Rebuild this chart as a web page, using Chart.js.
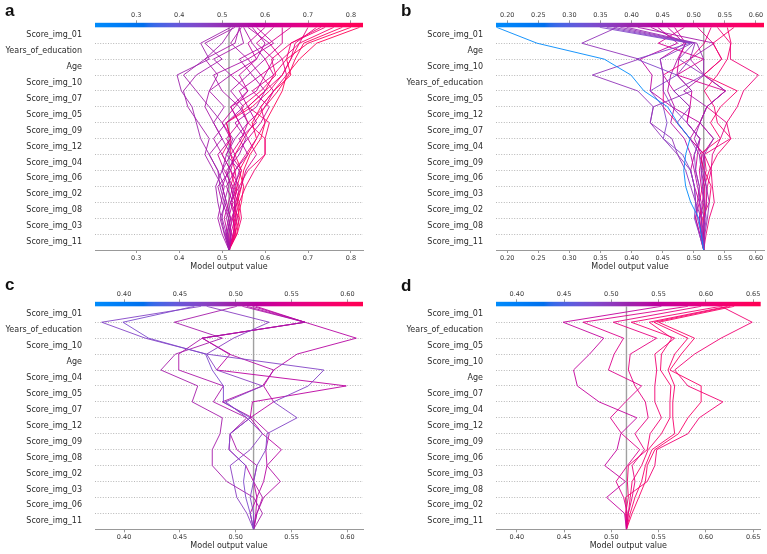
<!DOCTYPE html>
<html>
<head>
<meta charset="utf-8">
<script src="https://cdn.jsdelivr.net/npm/chart.js@4/dist/chart.umd.min.js"></script>
<style>
  html, body { margin: 0; padding: 0; background: #fff; }
  #page { position: relative; width: 767px; height: 554px; overflow: hidden; }
  .panel { position: absolute; }
  .letter { position: absolute; font: bold 17px "Liberation Sans", Arial, sans-serif; line-height: 1; color: #111; }
</style>
</head>
<body>
<div id="page">
  <div class="panel" style="left:0;top:0;width:384px;height:277px"><canvas id="chart-a"></canvas></div>
  <div class="panel" style="left:384px;top:0;width:383px;height:277px"><canvas id="chart-b"></canvas></div>
  <div class="panel" style="left:0;top:277px;width:384px;height:277px"><canvas id="chart-c"></canvas></div>
  <div class="panel" style="left:384px;top:277px;width:383px;height:277px"><canvas id="chart-d"></canvas></div>
  <div class="letter" style="left:5px;top:2px">a</div>
  <div class="letter" style="left:401px;top:2px">b</div>
  <div class="letter" style="left:5px;top:276px">c</div>
  <div class="letter" style="left:401px;top:277px">d</div>
</div>
<script>
// expected model output, where every decision path starts
const baseValue = 0.516;

// features listed top -> bottom as shown in each panel
const featuresA = ['Score_img_01', 'Years_of_education', 'Age', 'Score_img_10', 'Score_img_07', 'Score_img_05',
  'Score_img_09', 'Score_img_12', 'Score_img_04', 'Score_img_06', 'Score_img_02', 'Score_img_08', 'Score_img_03', 'Score_img_11'];
const featuresB = ['Score_img_01', 'Age', 'Score_img_10', 'Years_of_education', 'Score_img_05', 'Score_img_12',
  'Score_img_07', 'Score_img_04', 'Score_img_09', 'Score_img_06', 'Score_img_03', 'Score_img_02', 'Score_img_08', 'Score_img_11'];
const featuresC = ['Score_img_01', 'Years_of_education', 'Score_img_10', 'Age', 'Score_img_04', 'Score_img_05',
  'Score_img_07', 'Score_img_12', 'Score_img_09', 'Score_img_08', 'Score_img_02', 'Score_img_03', 'Score_img_06', 'Score_img_11'];
const featuresD = ['Score_img_01', 'Years_of_education', 'Score_img_05', 'Score_img_10', 'Age', 'Score_img_07',
  'Score_img_04', 'Score_img_12', 'Score_img_09', 'Score_img_06', 'Score_img_03', 'Score_img_08', 'Score_img_02', 'Score_img_11'];

// x limits (also the colour scale limits) and tick labels
const xRangeA = [0.204, 0.828];
const xRangeB = [0.182, 0.613];
const xRangeC = [0.374, 0.614];
const xRangeD = [0.378, 0.658];
const ticksA = [0.3, 0.4, 0.5, 0.6, 0.7, 0.8];
const ticksB = [0.20, 0.25, 0.30, 0.35, 0.40, 0.45, 0.50, 0.55, 0.60];
const ticksC = [0.40, 0.45, 0.50, 0.55, 0.60];
const ticksD = [0.40, 0.45, 0.50, 0.55, 0.60, 0.65];

// cumulative model output after each feature, bottom feature first, final prediction last
const linesA = [
  [0.510, 0.500, 0.505, 0.495, 0.490, 0.470, 0.450, 0.440, 0.430, 0.405, 0.395, 0.470, 0.450, 0.520],
  [0.505, 0.495, 0.510, 0.500, 0.480, 0.460, 0.470, 0.445, 0.420, 0.410, 0.440, 0.500, 0.460, 0.530],
  [0.512, 0.520, 0.505, 0.515, 0.500, 0.520, 0.500, 0.480, 0.505, 0.470, 0.520, 0.480, 0.550, 0.540],
  [0.520, 0.510, 0.520, 0.530, 0.540, 0.510, 0.530, 0.560, 0.540, 0.500, 0.480, 0.560, 0.520, 0.545],
  [0.515, 0.525, 0.530, 0.520, 0.510, 0.540, 0.555, 0.530, 0.580, 0.600, 0.570, 0.540, 0.610, 0.560],
  [0.508, 0.515, 0.500, 0.490, 0.520, 0.500, 0.480, 0.510, 0.550, 0.520, 0.560, 0.600, 0.570, 0.550],
  [0.522, 0.515, 0.525, 0.510, 0.530, 0.560, 0.540, 0.580, 0.560, 0.540, 0.590, 0.560, 0.620, 0.580],
  [0.513, 0.505, 0.515, 0.525, 0.505, 0.490, 0.520, 0.500, 0.530, 0.560, 0.540, 0.580, 0.560, 0.600],
  [0.520, 0.530, 0.520, 0.540, 0.520, 0.530, 0.510, 0.540, 0.520, 0.580, 0.600, 0.620, 0.580, 0.620],
  [0.525, 0.535, 0.530, 0.545, 0.555, 0.580, 0.560, 0.590, 0.610, 0.570, 0.620, 0.600, 0.640, 0.640],
  [0.518, 0.522, 0.535, 0.525, 0.545, 0.520, 0.545, 0.560, 0.600, 0.620, 0.590, 0.640, 0.610, 0.660],
  [0.530, 0.540, 0.520, 0.535, 0.530, 0.555, 0.580, 0.600, 0.590, 0.620, 0.650, 0.640, 0.680, 0.700],
  [0.528, 0.530, 0.540, 0.530, 0.520, 0.500, 0.520, 0.510, 0.560, 0.600, 0.640, 0.660, 0.670, 0.720],
  [0.535, 0.545, 0.540, 0.555, 0.575, 0.600, 0.600, 0.610, 0.560, 0.600, 0.620, 0.650, 0.660, 0.740],
  [0.532, 0.525, 0.530, 0.520, 0.530, 0.520, 0.520, 0.510, 0.570, 0.610, 0.640, 0.660, 0.680, 0.760],
  [0.526, 0.532, 0.528, 0.535, 0.545, 0.530, 0.550, 0.575, 0.600, 0.630, 0.655, 0.670, 0.690, 0.780],
  [0.530, 0.535, 0.545, 0.550, 0.540, 0.560, 0.580, 0.570, 0.590, 0.620, 0.660, 0.650, 0.700, 0.800],
  [0.534, 0.540, 0.536, 0.545, 0.550, 0.565, 0.590, 0.600, 0.620, 0.640, 0.650, 0.680, 0.720, 0.820],
  [0.500, 0.490, 0.498, 0.505, 0.490, 0.470, 0.500, 0.480, 0.460, 0.470, 0.490, 0.460, 0.530, 0.540],
  [0.510, 0.520, 0.510, 0.500, 0.515, 0.530, 0.560, 0.540, 0.520, 0.560, 0.520, 0.580, 0.600, 0.570],
  [0.528, 0.526, 0.535, 0.540, 0.560, 0.600, 0.600, 0.560, 0.545, 0.590, 0.625, 0.615, 0.660, 0.730],
  [0.506, 0.498, 0.490, 0.485, 0.500, 0.510, 0.525, 0.500, 0.470, 0.440, 0.410, 0.460, 0.500, 0.525]
];
const linesB = [
  [0.512, 0.508, 0.495, 0.487, 0.484, 0.487, 0.494, 0.474, 0.458, 0.420, 0.399, 0.356, 0.248, 0.183],
  [0.514, 0.512, 0.503, 0.501, 0.495, 0.474, 0.451, 0.430, 0.435, 0.410, 0.337, 0.412, 0.320, 0.377],
  [0.509, 0.501, 0.503, 0.501, 0.495, 0.482, 0.451, 0.457, 0.451, 0.430, 0.473, 0.408, 0.494, 0.349],
  [0.514, 0.517, 0.509, 0.509, 0.503, 0.501, 0.510, 0.489, 0.465, 0.451, 0.451, 0.446, 0.497, 0.360],
  [0.517, 0.520, 0.517, 0.514, 0.512, 0.509, 0.494, 0.473, 0.494, 0.468, 0.516, 0.476, 0.500, 0.371],
  [0.512, 0.506, 0.503, 0.495, 0.487, 0.474, 0.465, 0.430, 0.435, 0.497, 0.473, 0.494, 0.502, 0.382],
  [0.518, 0.522, 0.525, 0.520, 0.517, 0.517, 0.532, 0.510, 0.521, 0.551, 0.516, 0.516, 0.505, 0.392],
  [0.520, 0.525, 0.533, 0.530, 0.528, 0.517, 0.559, 0.553, 0.570, 0.580, 0.604, 0.559, 0.559, 0.538],
  [0.517, 0.514, 0.525, 0.528, 0.517, 0.509, 0.543, 0.527, 0.543, 0.570, 0.516, 0.545, 0.531, 0.565],
  [0.513, 0.509, 0.517, 0.512, 0.509, 0.514, 0.532, 0.510, 0.521, 0.551, 0.473, 0.516, 0.443, 0.485],
  [0.510, 0.503, 0.509, 0.501, 0.495, 0.501, 0.510, 0.489, 0.494, 0.468, 0.451, 0.446, 0.485, 0.458],
  [0.516, 0.512, 0.514, 0.517, 0.512, 0.517, 0.494, 0.510, 0.465, 0.430, 0.433, 0.414, 0.474, 0.442],
  [0.514, 0.517, 0.520, 0.522, 0.528, 0.530, 0.543, 0.553, 0.521, 0.551, 0.516, 0.545, 0.531, 0.506],
  [0.509, 0.503, 0.506, 0.509, 0.503, 0.506, 0.510, 0.489, 0.494, 0.497, 0.473, 0.476, 0.487, 0.469],
  [0.513, 0.512, 0.509, 0.514, 0.520, 0.517, 0.494, 0.473, 0.451, 0.451, 0.451, 0.494, 0.517, 0.528],
  [0.516, 0.518, 0.521, 0.520, 0.514, 0.512, 0.501, 0.510, 0.521, 0.484, 0.517, 0.494, 0.533, 0.410],
  [0.512, 0.509, 0.512, 0.506, 0.501, 0.495, 0.485, 0.463, 0.469, 0.458, 0.463, 0.474, 0.487, 0.431],
  [0.517, 0.516, 0.518, 0.517, 0.525, 0.538, 0.560, 0.538, 0.533, 0.517, 0.538, 0.554, 0.560, 0.554]
];
const linesC = [
  [0.516, 0.513, 0.516, 0.519, 0.527, 0.528, 0.555, 0.534, 0.565, 0.579, 0.474, 0.419, 0.380, 0.469],
  [0.513, 0.509, 0.507, 0.509, 0.494, 0.495, 0.513, 0.489, 0.489, 0.479, 0.473, 0.422, 0.399, 0.463],
  [0.510, 0.501, 0.498, 0.495, 0.513, 0.524, 0.510, 0.491, 0.524, 0.483, 0.474, 0.498, 0.530, 0.474],
  [0.524, 0.516, 0.492, 0.479, 0.479, 0.486, 0.488, 0.461, 0.466, 0.433, 0.446, 0.488, 0.445, 0.501],
  [0.519, 0.524, 0.516, 0.519, 0.501, 0.495, 0.510, 0.480, 0.489, 0.449, 0.449, 0.470, 0.562, 0.506],
  [0.519, 0.525, 0.540, 0.528, 0.527, 0.530, 0.515, 0.488, 0.524, 0.534, 0.494, 0.470, 0.562, 0.510],
  [0.518, 0.519, 0.525, 0.528, 0.541, 0.524, 0.513, 0.534, 0.525, 0.534, 0.555, 0.608, 0.562, 0.515],
  [0.513, 0.519, 0.516, 0.509, 0.494, 0.495, 0.513, 0.515, 0.599, 0.483, 0.495, 0.470, 0.562, 0.518]
];
const linesD = [
  [0.514, 0.495, 0.515, 0.493, 0.506, 0.510, 0.527, 0.487, 0.464, 0.460, 0.477, 0.492, 0.449, 0.553],
  [0.517, 0.513, 0.505, 0.517, 0.530, 0.511, 0.499, 0.515, 0.532, 0.497, 0.503, 0.513, 0.470, 0.581],
  [0.518, 0.522, 0.525, 0.522, 0.535, 0.525, 0.539, 0.536, 0.525, 0.518, 0.520, 0.548, 0.502, 0.595],
  [0.515, 0.518, 0.517, 0.518, 0.538, 0.541, 0.553, 0.546, 0.546, 0.548, 0.546, 0.567, 0.521, 0.616],
  [0.518, 0.520, 0.522, 0.532, 0.539, 0.553, 0.562, 0.562, 0.563, 0.552, 0.553, 0.564, 0.540, 0.623],
  [0.520, 0.525, 0.532, 0.536, 0.543, 0.567, 0.565, 0.565, 0.567, 0.560, 0.567, 0.581, 0.545, 0.626],
  [0.522, 0.529, 0.536, 0.538, 0.546, 0.571, 0.581, 0.595, 0.595, 0.562, 0.574, 0.588, 0.550, 0.630],
  [0.516, 0.515, 0.538, 0.546, 0.548, 0.581, 0.593, 0.618, 0.581, 0.567, 0.588, 0.616, 0.649, 0.616]
];

const FONT = 'DejaVu Sans';
Chart.defaults.font.family = FONT;

// SHAP's red_blue map: straight walk through LCH from blue to red
function lchToRgb(L, C, H) {
  const a = C * Math.cos(H), b = C * Math.sin(H);
  const fy = (L + 16) / 116, fx = fy + a / 500, fz = fy - b / 200;
  const inv = t => t > 6 / 29 ? t * t * t : 3 * (6 / 29) * (6 / 29) * (t - 4 / 29);
  const x = 0.95047 * inv(fx), y = inv(fy), z = 1.08883 * inv(fz);
  const lin = [
    3.2404542 * x - 1.5371385 * y - 0.4985314 * z,
    -0.9692660 * x + 1.8760108 * y + 0.0415560 * z,
    0.0556434 * x - 0.2040259 * y + 1.0572252 * z
  ];
  return lin.map(c => {
    c = Math.min(1, Math.max(0, c));
    c = c <= 0.0031308 ? 12.92 * c : 1.055 * Math.pow(c, 1 / 2.4) - 0.055;
    return Math.round(c * 255);
  });
}
function shapColor(t, alpha = 1) {
  t = Math.min(1, Math.max(0, t));
  const L = t < 0.5 ? 54 - 14 * (t / 0.5) : 40 + 14 * ((t - 0.5) / 0.5);
  const C = 70 + 20 * t;
  const H = 4.6588 + (0.35470565 + 2 * Math.PI - 4.6588) * t;
  const [r, g, b] = lchToRgb(L, C, H);
  return `rgba(${r},${g},${b},${alpha})`;
}

// colour bar sitting on top of the plot area
const colorbarPlugin = {
  id: 'colorbar',
  afterDraw(chart) {
    const { ctx, chartArea } = chart;
    const h = chart.options.plugins.colorbar.height;
    const grad = ctx.createLinearGradient(chartArea.left, 0, chartArea.right, 0);
    for (let i = 0; i <= 50; i++) grad.addColorStop(i / 50, shapColor(i / 50));
    ctx.save();
    ctx.fillStyle = grad;
    ctx.fillRect(chartArea.left, chartArea.top - h, chartArea.right - chartArea.left, h);
    ctx.restore();
  }
};

function makePanel(canvasId, features, xRange, ticks, decimals, lines, box) {
  const n = features.length;
  const datasets = lines.map(vals => {
    const path = [baseValue, ...vals];
    const t = (path[path.length - 1] - xRange[0]) / (xRange[1] - xRange[0]);
    return {
      data: path.map((v, i) => ({ x: v, y: i })),
      borderColor: shapColor(t, 0.9),
      borderWidth: 1,
      pointRadius: 0,
      tension: 0,
      fill: false,
      order: 1
    };
  });
  // vertical reference line at the base value
  datasets.push({
    data: [{ x: baseValue, y: 0 }, { x: baseValue, y: n }],
    borderColor: '#a0a0a0',
    borderWidth: 1.4,
    pointRadius: 0,
    order: 2
  });

  const setTicks = s => { s.ticks = ticks.map(v => ({ value: v })); };

  new Chart(document.getElementById(canvasId), {
    type: 'line',
    data: { datasets },
    plugins: [colorbarPlugin],
    options: {
      responsive: true,
      maintainAspectRatio: false,
      animation: false,
      events: [],
      layout: { padding: { left: 0, right: box.right, top: 0, bottom: 0 } },
      plugins: {
        legend: { display: false },
        tooltip: { enabled: false },
        colorbar: { height: 4.5 }
      },
      scales: {
        x: {
          type: 'linear', position: 'bottom', min: xRange[0], max: xRange[1],
          afterBuildTicks: setTicks,
          afterFit: s => { s.height = box.bottom; },
          ticks: { callback: v => v.toFixed(decimals), font: { size: 6.5 }, color: '#3a3a3a', padding: 1, autoSkip: false, maxRotation: 0 },
          grid: { drawOnChartArea: false, tickLength: 3, color: '#999' },
          border: { color: '#999' },
          title: { display: true, text: 'Model output value', font: { size: 8 }, color: '#2b2b2b', padding: { top: 0, bottom: box.titlePad } }
        },
        xt: {
          type: 'linear', position: 'top', min: xRange[0], max: xRange[1],
          afterBuildTicks: setTicks,
          afterFit: s => { s.height = box.top; },
          ticks: { callback: v => v.toFixed(decimals), font: { size: 6.5 }, color: '#3a3a3a', padding: 1.5, autoSkip: false, maxRotation: 0 },
          grid: { drawOnChartArea: false, tickLength: 7, color: '#999' },
          border: { display: false }
        },
        y: {
          type: 'linear', position: 'left', min: 0, max: n,
          afterBuildTicks: s => { s.ticks = features.map((f, i) => ({ value: n - 0.5 - i })); },
          afterFit: s => { s.width = box.left; },
          ticks: { callback: v => features[Math.round(n - 0.5 - v)], font: { size: 8 }, color: '#2b2b2b', padding: 5, autoSkip: false },
          grid: { display: false },
          border: { display: false }
        },
        yg: {
          type: 'linear', position: 'left', min: 0, max: n,
          afterBuildTicks: s => { s.ticks = features.slice(1).map((f, i) => ({ value: i + 1 })); },
          afterFit: s => { s.width = 0; },
          ticks: { display: false },
          grid: { color: '#b8b8b8', lineWidth: 1, drawTicks: false },
          border: { display: false, dash: [1, 1.6] }
        }
      }
    }
  });
}

makePanel('chart-a', featuresA, xRangeA, ticksA, 1, linesA, { left: 95, top: 27.3, bottom: 27, titlePad: 4.9, right: 21 });
makePanel('chart-b', featuresB, xRangeB, ticksB, 2, linesB, { left: 112, top: 27.3, bottom: 27, titlePad: 4.9, right: 3 });
makePanel('chart-c', featuresC, xRangeC, ticksC, 2, linesC, { left: 95, top: 29.3, bottom: 24.7, titlePad: 2.9, right: 21 });
makePanel('chart-d', featuresD, xRangeD, ticksD, 2, linesD, { left: 112, top: 29.3, bottom: 24.7, titlePad: 2.9, right: 6.3 });
</script>
</body>
</html>
